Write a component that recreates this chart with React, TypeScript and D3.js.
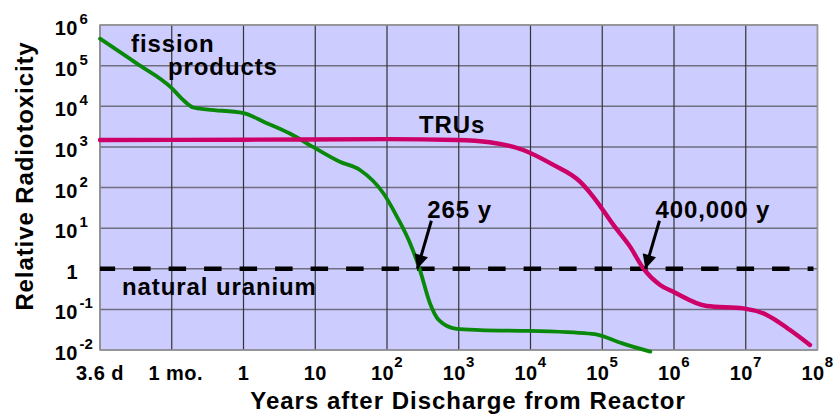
import React from "react";
import * as d3 from "d3";

// years after discharge / relative radiotoxicity
const fissionYears = [0.01, 0.032, 0.1, 0.14, 0.2, 0.32, 1, 2, 4.5, 9.3, 22, 42, 89, 138, 209, 288, 398, 525, 933, 2000, 10000, 40000, 79000, 186000, 468000];
const fissionValues = [4.6e5, 1.15e5, 2.8e4, 1.5e4, 9300, 8300, 6800, 4000, 2100, 1000, 430, 270, 72, 19, 4.3, 0.93, 0.14, 0.055, 0.033, 0.031, 0.0295, 0.027, 0.0245, 0.0148, 0.0091];

const truYears = [0.01, 1, 100, 940, 2700, 7900, 20800, 49000, 75000, 143000, 244000, 374000, 640000, 977000, 2860000, 9250000, 19600000, 41400000, 78500000];
const truValues = [1480, 1500, 1550, 1480, 1300, 840, 360, 139, 59, 12, 3.5, 1.02, 0.4, 0.272, 0.121, 0.106, 0.073, 0.031, 0.0133];

const naturalUranium = 1;
const crossingYears = [265, 400000];
const crossingLabels = ["265 y", "400,000 y"];

const xTickYears = [0.01, 0.1, 1, 10, 1e2, 1e3, 1e4, 1e5, 1e6, 1e7, 1e8];
const xTickBase = ["3.6 d", "1 mo.", "1", "10", "10", "10", "10", "10", "10", "10", "10"];
const xTickExp = ["", "", "", "", "2", "3", "4", "5", "6", "7", "8"];

const yTickValues = [1e6, 1e5, 1e4, 1e3, 1e2, 1e1, 1, 1e-1, 1e-2];
const yTickBase = ["10", "10", "10", "10", "10", "10", "1", "10", "10"];
const yTickExp = ["6", "5", "4", "3", "2", "1", "", "-1", "-2"];

const W = 835;
const H = 415;
const left = 100, right = 817.5, top = 25, bottom = 350;
const font = "'Liberation Sans', Arial, sans-serif";

export default function App() {
  const x = d3.scaleLog().domain([0.01, 1e8]).range([left, right]);
  const y = d3.scaleLog().domain([1e-2, 1e6]).range([bottom, top]);

  const line = d3
    .line<[number, number]>()
    .x((d) => x(d[0]))
    .y((d) => y(d[1]))
    .curve(d3.curveMonotoneX);

  const fission = fissionYears.map((t, i) => [t, fissionValues[i]] as [number, number]);
  const tru = truYears.map((t, i) => [t, truValues[i]] as [number, number]);
  const yU = y(naturalUranium);

  const txt = { fontFamily: font, fontWeight: "bold", fill: "#000" } as const;

  return (
    <svg width={W} height={H} style={{ position: "absolute", left: 0, top: 0 }}>
      <defs>
        <marker id="head" viewBox="0 0 10 10" refX="10" refY="5" markerWidth="15" markerHeight="14" markerUnits="userSpaceOnUse" orient="auto">
          <path d="M0,0 L10,5 L0,10 z" fill="#000" />
        </marker>
      </defs>
      <rect x={0} y={0} width={W} height={H} fill="#fff" />
      <rect x={left} y={top} width={right - left} height={bottom - top} fill="#ccccff" />

      {yTickValues.map((v) => (
        <line key={"h" + v} x1={left} x2={right} y1={y(v)} y2={y(v)} stroke="#6e6e80" strokeWidth={1.5} />
      ))}
      {xTickYears.map((t) => (
        <line key={"v" + t} x1={x(t)} x2={x(t)} y1={top} y2={bottom} stroke="#333" strokeWidth={1.2} />
      ))}
      <rect x={left} y={top} width={right - left} height={bottom - top} fill="none" stroke="#999" strokeWidth={1.5} />

      <line x1={left} x2={right - 4} y1={yU} y2={yU} stroke="#000" strokeWidth={4.5} strokeDasharray="17.5,18" strokeDashoffset={2.4} />

      <path d={line(fission) ?? ""} fill="none" stroke="#0a880a" strokeWidth={3.8} strokeLinecap="round" />
      <path d={line(tru) ?? ""} fill="none" stroke="#cc0066" strokeWidth={4.4} strokeLinecap="round" />

      {/* y tick labels */}
      {yTickValues.map((v, i) => (
        <g key={"yl" + v}>
          <text {...txt} x={78} y={y(v) + 10} fontSize={20} textAnchor="end" letterSpacing={0.5}>
            {yTickBase[i]}
          </text>
          {yTickExp[i] && (
            <text {...txt} x={79.5} y={y(v) - 1} fontSize={15}>
              {yTickExp[i]}
            </text>
          )}
        </g>
      ))}

      {/* x tick labels */}
      {xTickYears.map((t, i) => (
        <text key={"xl" + t} {...txt} x={x(t) + (i === 1 ? 4 : 0)} y={380} fontSize={20} textAnchor="middle" letterSpacing={0.5}>
          {xTickBase[i]}
          {xTickExp[i] && (
            <tspan fontSize={15} dy={-13}>
              {xTickExp[i]}
            </tspan>
          )}
        </text>
      ))}

      {/* series labels */}
      <text {...txt} x={131} y={52} fontSize={24} letterSpacing={0.9}>fission</text>
      <text {...txt} x={168} y={75} fontSize={24} letterSpacing={0.9}>products</text>
      <text {...txt} x={419} y={133} fontSize={24} letterSpacing={0.9}>TRUs</text>
      <text {...txt} x={122} y={295} fontSize={24} letterSpacing={0.9}>natural uranium</text>

      {/* crossing annotations */}
      {crossingYears.map((t, i) => (
        <g key={"c" + t}>
          <line x1={x(t) + 14} y1={yU - 48} x2={x(t)} y2={yU} stroke="#000" strokeWidth={3} markerEnd="url(#head)" />
          <text {...txt} x={x(t) + 10} y={yU - 51} fontSize={24} letterSpacing={0.9}>
            {crossingLabels[i]}
          </text>
        </g>
      ))}

      {/* axis titles */}
      <text {...txt} x={468} y={409} fontSize={24} textAnchor="middle" letterSpacing={1}>
        Years after Discharge from Reactor
      </text>
      <text {...txt} transform="translate(33,176) rotate(-90)" fontSize={24} textAnchor="middle" letterSpacing={0.9}>
        Relative Radiotoxicity
      </text>
    </svg>
  );
}
